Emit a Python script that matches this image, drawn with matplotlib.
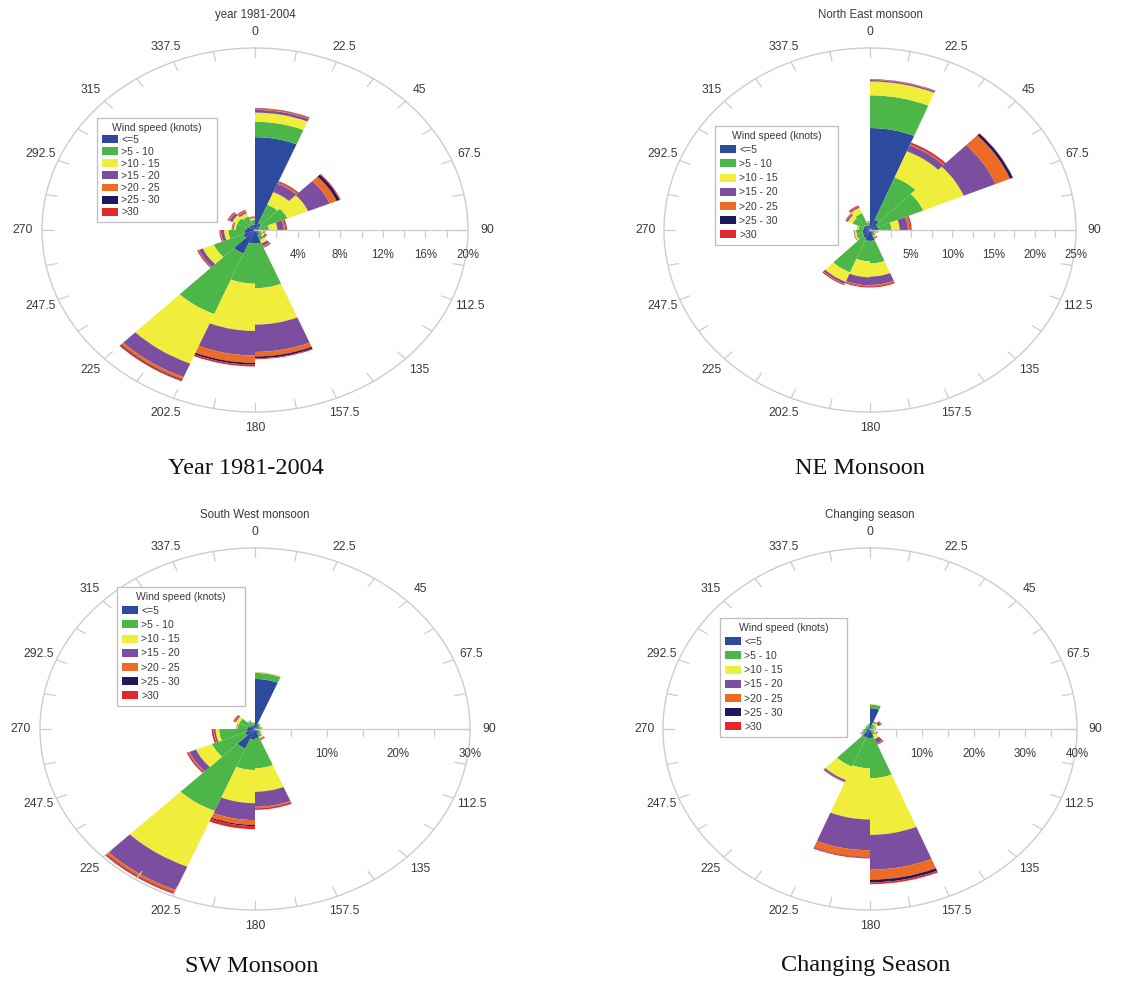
import numpy as np
import matplotlib.pyplot as plt
from matplotlib.patches import Patch

# direction bins (start angle, degrees clockwise from north)
directions = np.arange(0, 360, 22.5)
angle_labels = ['0', '22.5', '45', '67.5', '90', '112.5', '135', '157.5',
                '180', '202.5', '225', '247.5', '270', '292.5', '315', '337.5']
speed_labels = ['<=5', '>5 - 10', '>10 - 15', '>15 - 20', '>20 - 25', '>25 - 30', '>30']
speed_colors = ['#2d4b9e', '#4cb748', '#f1ee3b', '#7b4e9f', '#ee6b25', '#1c1a5e', '#e2282b']

# frequency (%) per direction bin, columns follow speed_labels
year = [
    [10.2, 1.7, 1.0, 0.3, 0.1, 0.05, 0.05],
    [0.8, 2.2, 1.5, 1.0, 0.15, 0.05, 0.1],
    [0.5, 2.8, 2.1, 2.2, 0.7, 0.3, 0.1],
    [0.3, 1.0, 0.8, 0.6, 0.15, 0.05, 0.1],
    [0.3, 0.3, 0.2, 0.1, 0.05, 0.0, 0.05],
    [0.4, 0.4, 0.2, 0.15, 0.05, 0.0, 0.05],
    [0.6, 0.6, 0.4, 0.3, 0.1, 0.0, 0.1],
    [1.5, 4.9, 4.0, 3.0, 0.5, 0.2, 0.1],
    [1.5, 4.4, 5.2, 2.7, 0.8, 0.2, 0.2],
    [2.8, 7.2, 5.9, 1.6, 0.3, 0.1, 0.1],
    [1.2, 3.0, 1.1, 0.4, 0.05, 0.03, 0.1],
    [1.0, 1.5, 0.4, 0.3, 0.05, 0.0, 0.1],
    [0.8, 1.0, 0.2, 0.1, 0.05, 0.0, 0.05],
    [0.6, 1.2, 0.5, 0.3, 0.1, 0.0, 0.1],
    [0.6, 1.0, 0.4, 0.2, 0.1, 0.0, 0.1],
    [0.6, 0.5, 0.2, 0.1, 0.05, 0.0, 0.05],
]
ne_monsoon = [
    [14.0, 4.5, 1.9, 0.2, 0.05, 0.03, 0.05],
    [1.5, 6.3, 3.9, 0.9, 0.1, 0.05, 0.25],
    [1.0, 6.0, 5.3, 4.2, 1.9, 0.35, 0.05],
    [1.0, 1.6, 1.0, 1.0, 0.25, 0.05, 0.15],
    [0.5, 0.3, 0.15, 0.05, 0.0, 0.0, 0.05],
    [0.4, 0.2, 0.1, 0.05, 0.0, 0.0, 0.05],
    [0.6, 0.3, 0.2, 0.1, 0.0, 0.0, 0.1],
    [1.5, 3.1, 1.8, 1.15, 0.15, 0.05, 0.15],
    [1.5, 2.8, 2.2, 1.1, 0.1, 0.05, 0.15],
    [1.2, 5.1, 1.4, 0.3, 0.05, 0.0, 0.15],
    [1.0, 0.8, 0.2, 0.05, 0.0, 0.0, 0.05],
    [0.9, 0.8, 0.2, 0.05, 0.0, 0.0, 0.05],
    [0.8, 0.6, 0.1, 0.05, 0.0, 0.0, 0.0],
    [0.8, 1.5, 0.6, 0.2, 0.05, 0.0, 0.1],
    [0.7, 1.8, 0.8, 0.2, 0.05, 0.0, 0.12],
    [0.6, 0.4, 0.1, 0.05, 0.0, 0.0, 0.05],
]
sw_monsoon = [
    [8.3, 1.0, 0.1, 0.0, 0.0, 0.0, 0.03],
    [0.8, 0.2, 0.05, 0.0, 0.0, 0.0, 0.02],
    [0.5, 0.3, 0.05, 0.0, 0.0, 0.0, 0.02],
    [0.4, 0.5, 0.1, 0.02, 0.0, 0.0, 0.02],
    [0.4, 0.2, 0.05, 0.02, 0.0, 0.0, 0.03],
    [0.5, 0.3, 0.1, 0.05, 0.0, 0.0, 0.05],
    [0.8, 0.6, 0.3, 0.15, 0.05, 0.0, 0.1],
    [1.5, 5.0, 3.9, 2.5, 0.2, 0.05, 0.25],
    [1.8, 5.0, 5.5, 2.8, 0.8, 0.2, 0.5],
    [3.5, 11.2, 10.0, 4.2, 0.4, 0.1, 0.2],
    [1.5, 5.0, 2.4, 1.0, 0.15, 0.05, 0.2],
    [1.2, 3.8, 0.5, 0.25, 0.05, 0.0, 0.25],
    [1.0, 1.4, 0.1, 0.05, 0.0, 0.0, 0.05],
    [0.8, 1.6, 0.5, 0.2, 0.05, 0.0, 0.15],
    [0.7, 0.7, 0.1, 0.05, 0.0, 0.0, 0.02],
    [0.6, 0.4, 0.1, 0.02, 0.0, 0.0, 0.02],
]
changing = [
    [4.6, 0.8, 0.1, 0.0, 0.0, 0.0, 0.02],
    [0.6, 0.6, 0.3, 0.2, 0.05, 0.0, 0.05],
    [0.5, 0.7, 0.5, 0.6, 0.1, 0.0, 0.1],
    [0.4, 0.4, 0.2, 0.1, 0.0, 0.0, 0.05],
    [0.4, 0.3, 0.2, 0.1, 0.0, 0.0, 0.05],
    [0.5, 0.5, 0.4, 0.2, 0.05, 0.0, 0.05],
    [0.6, 0.8, 1.0, 1.0, 0.2, 0.05, 0.1],
    [2.0, 8.9, 12.5, 7.7, 2.2, 0.6, 0.4],
    [2.0, 6.7, 11.3, 6.8, 1.5, 0.1, 0.2],
    [2.0, 7.0, 3.2, 0.4, 0.05, 0.0, 0.1],
    [0.9, 0.8, 0.2, 0.1, 0.0, 0.0, 0.05],
    [0.7, 0.6, 0.1, 0.05, 0.0, 0.0, 0.02],
    [0.5, 0.4, 0.05, 0.0, 0.0, 0.0, 0.02],
    [0.5, 0.4, 0.05, 0.02, 0.0, 0.0, 0.02],
    [0.5, 0.4, 0.05, 0.02, 0.0, 0.0, 0.02],
    [0.6, 0.5, 0.05, 0.02, 0.0, 0.0, 0.02],
]

W, H = 1123, 981
grey = '#cdcdcd'
txt = '#3a3a3a'
plt.rcParams['font.family'] = ['Liberation Sans', 'DejaVu Sans']

fig = plt.figure(figsize=(W / 100, H / 100), dpi=100)


def rose(data, rmax, step, cx, cy, rx, ry, title, caption, cap_x, leg_box, leg_sp):
    ax = fig.add_axes([(cx - rx) / W, 1 - (cy + ry) / H, 2 * rx / W, 2 * ry / H],
                      projection='polar')
    ax.set_aspect('auto')
    ax.set_theta_zero_location('N')
    ax.set_theta_direction(-1)
    data = np.array(data)
    theta = np.deg2rad(directions)
    bottom = np.zeros(len(directions))
    for k in range(len(speed_labels)):
        ax.bar(theta, data[:, k], width=np.deg2rad(22.5), bottom=bottom, align='edge',
               color=speed_colors[k], edgecolor='none', linewidth=0)
        bottom += data[:, k]

    # outer ring ticks
    for a in np.arange(0, 360, 11.25):
        t = np.deg2rad(a)
        ax.plot([t, t], [rmax * 0.948, rmax], color=grey, lw=0.9)
    # direction labels
    for a, lab in zip(directions, angle_labels):
        ax.text(np.deg2rad(a), rmax * 1.09, lab, ha='center', va='center',
                fontsize=8.7, color=txt, clip_on=False)

    # radial axis along 90 degrees
    ax.plot([np.pi / 2, np.pi / 2], [0, rmax], color=grey, lw=0.9)
    rt = np.arange(step / 2, rmax + 0.01, step / 2)
    ax.plot(np.full(len(rt), np.pi / 2), rt, ls='none', marker=3, ms=5,
            mew=0.9, color=grey)
    for r in np.arange(step, rmax + 0.01, step):
        ax.annotate(f'{r:g}%', xy=(np.pi / 2, r), xytext=(0, -18),
                    textcoords='offset points', ha='center', va='center',
                    fontsize=8.3, color=txt, annotation_clip=False)

    ax.set_ylim(0, rmax)
    ax.set_xticks([])
    ax.set_yticks([])
    ax.grid(False)
    ax.spines['polar'].set_color(grey)
    ax.spines['polar'].set_linewidth(1.0)

    x0, y0, x1, y1 = leg_box
    handles = [Patch(facecolor=c, edgecolor='none') for c in speed_colors]
    ax.legend(handles, speed_labels, title='Wind speed (knots)', loc='upper left',
              bbox_to_anchor=(x0 / W, 1 - y1 / H, (x1 - x0) / W, (y1 - y0) / H),
              bbox_transform=fig.transFigure, mode='expand', fontsize=7.5,
              title_fontsize=7.5, frameon=True, fancybox=False, edgecolor='#bdbdbd',
              framealpha=1, borderpad=0.45, labelspacing=leg_sp, handlelength=1.6,
              handleheight=0.8, handletextpad=0.3, borderaxespad=0)
    leg = ax.get_legend()
    leg.get_frame().set_linewidth(0.9)
    for t in leg.get_texts():
        t.set_color(txt)
    leg.get_title().set_color(txt)

    fig.text(cx / W, 1 - (cy - ry - 33) / H, title, ha='center', va='center',
             fontsize=8.3, color=txt)
    fig.text(cap_x / W, 1 - (cy + ry + 56) / H, caption, ha='center', va='center',
             fontsize=17.5, family='Liberation Serif', color='#111111')


rose(year, 20, 4, 255, 230, 213, 182, 'year 1981-2004', 'Year 1981-2004', 246,
     (97, 118, 217, 223), 0.2)
rose(ne_monsoon, 25, 5, 870, 230, 206, 182, 'North East monsoon', 'NE Monsoon', 860,
     (715, 126, 838, 247), 0.4)
rose(sw_monsoon, 30, 10, 255, 729, 215, 181, 'South West monsoon', 'SW Monsoon', 252,
     (117, 587, 245, 707), 0.4)
rose(changing, 40, 10, 870, 729, 207, 181, 'Changing season', 'Changing Season', 866,
     (720, 618, 847, 738), 0.4)

fig.savefig('out.png', dpi=100, facecolor='white')
